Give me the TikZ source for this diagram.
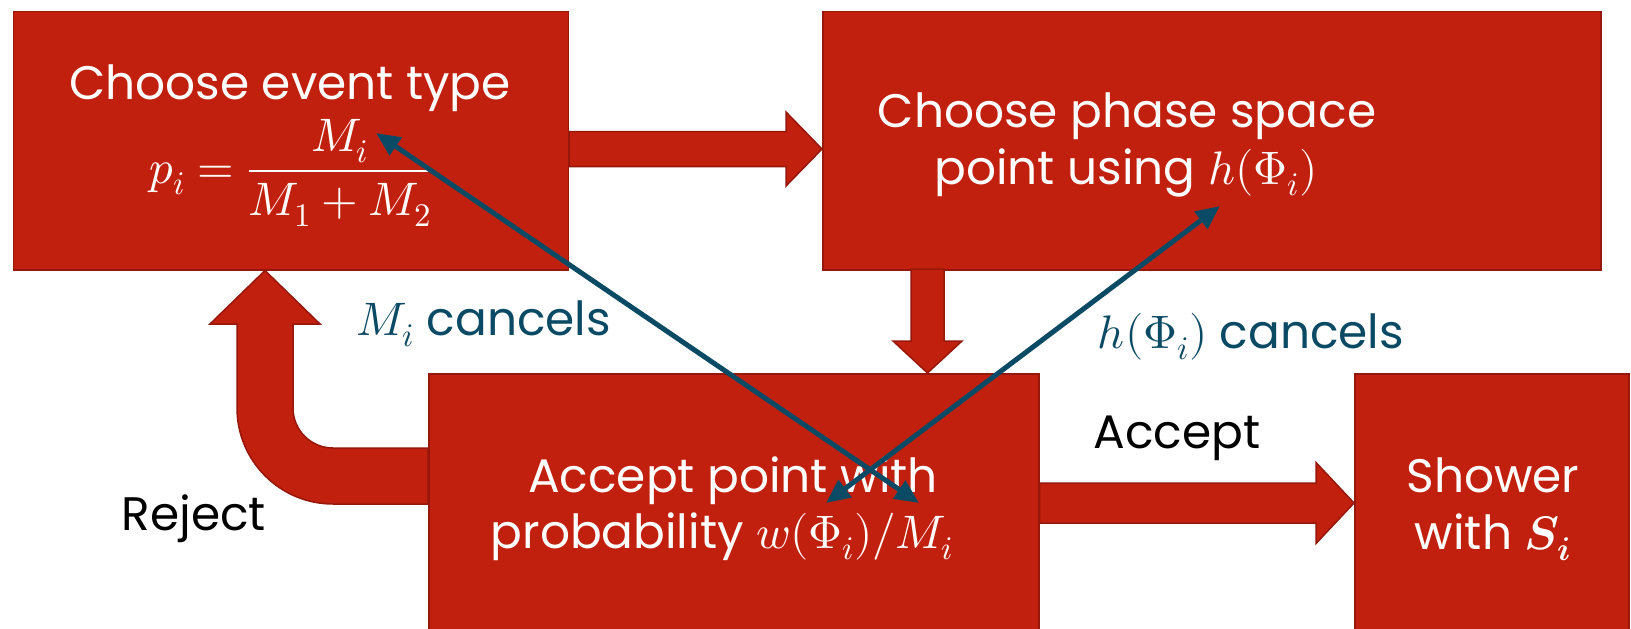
\documentclass[tikz,border=0pt]{standalone}
\usepackage{amsmath}
\usepackage{fontspec}
\usepackage{unicode-math}
\setmainfont{Poppins}
\setmathfont{Latin Modern Math}
\usetikzlibrary{arrows.meta,calc}
\definecolor{boxred}{RGB}{194,32,14}
\definecolor{edgered}{RGB}{150,24,10}
\definecolor{cteal}{RGB}{11,74,100}
\tikzset{
  box/.style={draw=edgered, line width=1.5pt, fill=boxred, rectangle, inner sep=0pt, anchor=north west},
  blockarrow/.style={draw=edgered, line width=1.5pt, fill=boxred, line join=miter},
  wtext/.style={text=white, font=\fontsize{47}{56}\selectfont, inner sep=0pt, anchor=base},
  btext/.style={text=black, font=\fontsize{47}{56}\selectfont, inner sep=0pt, anchor=base},
  ttext/.style={text=cteal, font=\fontsize{47}{56}\selectfont, inner sep=0pt, anchor=base},
  cancel/.style={draw=cteal, line width=5pt, {Triangle[length=24pt,width=21pt]}-{Triangle[length=24pt,width=21pt]}}
}
\begin{document}
\begin{tikzpicture}[x=1pt,y=-1pt]
\useasboundingbox (0,0) rectangle (1631,629);
\clip (0,0) rectangle (1631,629);
\fill[white] (0,0) rectangle (1631,629);
% boxes
\node[box, minimum width=555pt, minimum height=258.5pt] (b1) at (12.5,10.5) {};
\node[box, minimum width=778pt, minimum height=258.5pt] (b2) at (822,10.5) {};
\node[box, minimum width=610pt, minimum height=280pt] (b3) at (428,373) {};
\node[box, minimum width=274pt, minimum height=280pt] (b4) at (1354,373) {};
% block arrows
\draw[blockarrow] ($(b1.north east)+(0,121)$) -- (786,131.5) -- (786,112) -- ($(b2.north west)+(0,138.5)$) -- (786,186) -- (786,166.5) -- ($(b1.north east)+(0,156)$) -- cycle;
\draw[blockarrow] (911,269) -- (911,341) -- (893,341) -- ($(b3.north west)+(499.5,0)$) -- (962,341) -- (944,341) -- (944,269) -- cycle;
\draw[blockarrow] ($(b3.north east)+(0,110)$) -- (1316,483) -- (1316,462.5) -- ($(b4.north west)+(0,130)$) -- (1316,543.5) -- (1316,523) -- ($(b3.north east)+(0,150)$) -- cycle;
\draw[blockarrow] ($(b3.north west)+(0,75)$) -- (333,448) .. controls (310.9,448) and (293,430.1) .. (293,408) -- (293,324) -- (320,324) -- ($(b1.south west)+(252.5,0)$) -- (210,324) -- (237,324) -- (237,408) .. controls (237,461) and (280,504) .. (333,504) -- ($(b3.north west)+(0,131)$) -- cycle;
% box texts
\node[wtext] (t1a) at (290,99) {Choose event type};
\node[wtext] (t1b) at (291,183) {$p_i=\dfrac{M_i}{M_1+M_2}$};
\node[wtext] (t2a) at (1127,127) {Choose phase space};
\node[wtext] (t2b) at (1126,184) {point using $h(\Phi_i)$};
\node[wtext] (t3a) at (733,492) {Accept point with};
\node[wtext] (t3b) at (722,548) {probability $w(\Phi_i)/M_i$};
\node[wtext] (t4a) at (1493,492) {Shower};
\node[wtext] (t4b) at (1493,549) {with $\symbfit{S}_{\symbfit{i}}$};
% labels
\node[ttext] (l1) at (484,335) {$M_i$ cancels};
\node[ttext] (l2) at (1251,348) {$h(\Phi_i)$ cancels};
\node[btext] (l3) at (1177,448) {Accept};
\node[btext] (l4) at (194,530) {Reject};
% cancellation arrows
\coordinate (c1a) at (376,133);
\coordinate (c1b) at (919,503);
\coordinate (c2a) at (1220,206);
\coordinate (c2b) at (826,503);
\draw[cancel] (c1a) -- (c1b);
\draw[cancel] (c2a) -- (c2b);
\end{tikzpicture}
\end{document}
